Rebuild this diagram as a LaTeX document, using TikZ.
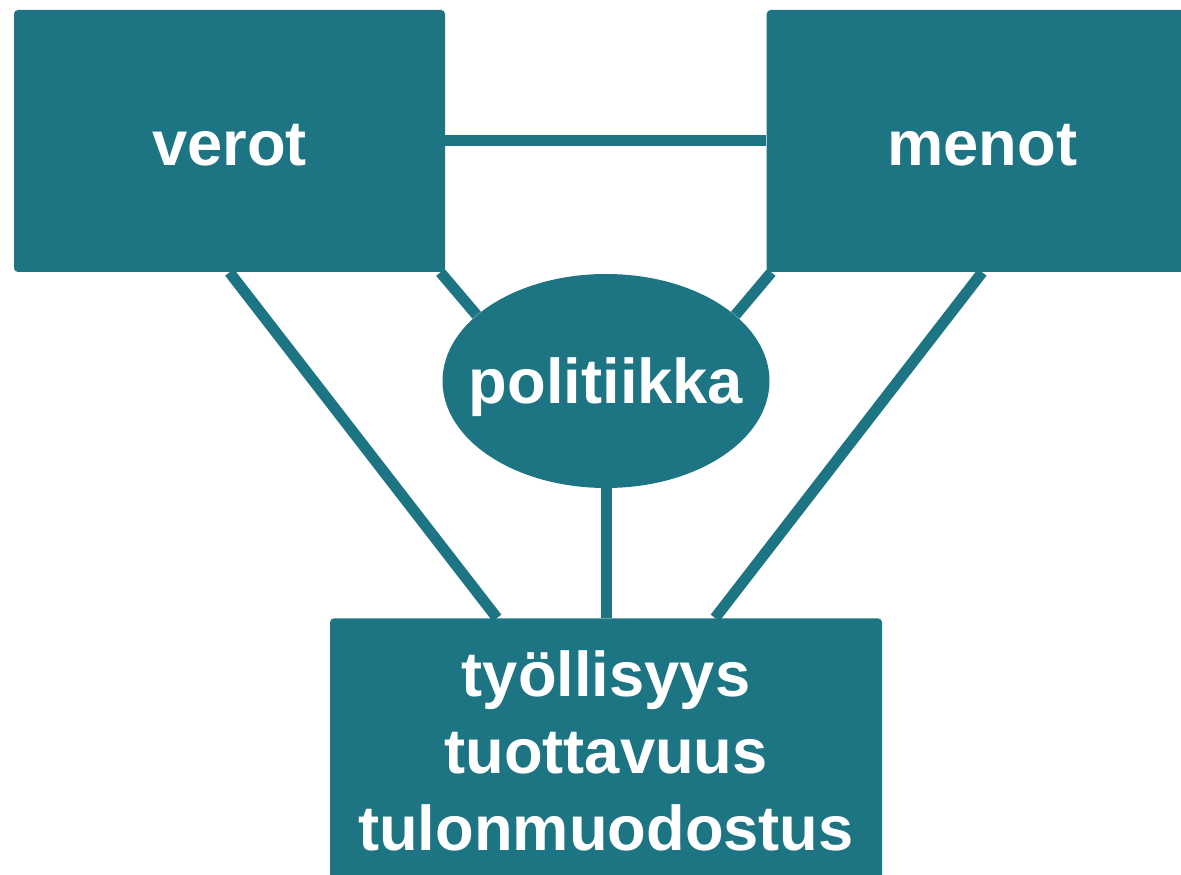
\documentclass[tikz,border=0pt]{standalone}
\usepackage{fontspec}
\setmainfont{Liberation Sans}
\usetikzlibrary{positioning,shapes.geometric,backgrounds}
\definecolor{petrol}{RGB}{29,116,131}

\begin{document}
\begin{tikzpicture}[draw=petrol, node distance=6.42cm]
\tikzstyle{every edge}=[draw=petrol, line width=0.22cm]
\tikzstyle{block}=[rectangle, rounded corners=0.08cm, fill=petrol, text=white, inner sep=0pt, font=\bfseries\fontsize{36}{44}\selectfont]
\tikzstyle{top block}=[block, text height=1.0cm, minimum width=8.62cm, minimum height=5.24cm]
\tikzstyle{policy}=[block, ellipse, inner xsep=-0.43cm, text height=1.15cm, minimum width=6.48cm, minimum height=4.28cm]
\tikzstyle{result block}=[block, align=center, minimum width=11.04cm, minimum height=5.3cm]

\useasboundingbox (0,0) rectangle (23.62,-17.5);
\clip (0,0) rectangle (23.62,-17.5);

% Draw the blocks
\node[top block] (verot) at (4.59,-2.82) {verot};
\node[top block, right=of verot] (menot) {menot};
\node[policy] (pol) at (12.12,-7.62) {politiikka};
\node[result block, anchor=north] (tulos) at (12.12,-12.36) {työllisyys\\tuottavuus\\tulonmuodostus};

% Connect the blocks behind them
\begin{scope}[on background layer]
\foreach \source / \dest in {verot.east/menot.west, pol.south/tulos.north}
\path (\source) edge (\dest);
\path ([xshift=-0.1cm]verot.south east) edge (pol.153);
\path ([xshift=0.1cm]menot.south west) edge (pol.27);
\path (verot.south) edge ([xshift=-2.18cm]tulos.north);
\path (menot.south) edge ([xshift=2.18cm]tulos.north);
\end{scope}

\end{tikzpicture}
\end{document}
